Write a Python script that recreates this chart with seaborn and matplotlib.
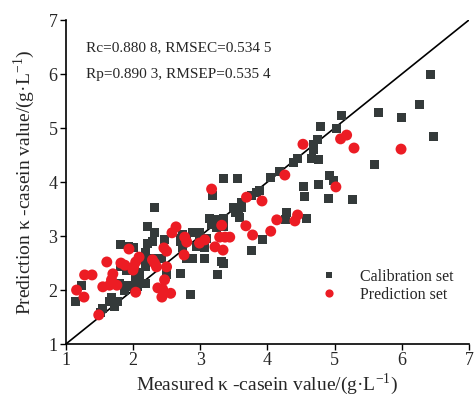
import numpy as np
import pandas as pd
import matplotlib
matplotlib.use("Agg")
import matplotlib.pyplot as plt
import seaborn as sns

# Calibration set (measured, predicted)
cal_x = [6.43, 6.27, 5.66, 5.99, 6.48, 5.60, 5.11, 4.79, 5.03, 4.75, 4.69, 4.68, 4.66, 4.76, 4.45, 4.39,
         4.93, 4.99, 4.76, 4.54, 4.56, 4.91, 5.27, 4.59, 4.29, 4.27,
         4.18, 4.04, 3.56, 3.34, 3.19,
         3.84, 3.77, 3.89, 3.62, 3.49, 3.57, 3.59, 3.62, 3.53,
         3.93, 3.77,
         3.34, 3.25, 3.14, 3.17, 3.25, 3.34, 3.22,
         2.99, 2.89, 2.80, 2.70, 3.10, 2.99, 2.95, 3.07, 2.70, 2.74,
         2.89, 2.80, 3.07, 3.31, 3.34, 3.26, 2.70, 2.86,
         2.32, 2.21, 2.32, 2.22, 2.29, 2.47, 2.74,
         2.18, 2.29, 2.43, 2.15, 2.50, 2.10,
         1.82, 1.94, 2.01,
         2.18, 2.10, 2.04, 1.82, 1.91,
         1.80, 1.24, 1.15, 1.91, 1.88, 1.97, 2.06, 2.18,
         1.68, 1.65, 1.77, 1.73, 1.54, 1.51]
cal_y = [6.00, 5.43, 5.28, 5.20, 4.85, 4.33, 5.24, 5.02, 5.00, 4.78, 4.70, 4.61, 4.44, 4.41, 4.43, 4.37,
         4.13, 4.02, 3.96, 3.91, 3.74, 3.70, 3.67, 3.33, 3.43, 3.31,
         4.19, 4.09, 4.07, 4.06, 3.76,
         3.80, 3.76, 3.85, 3.63, 3.52, 3.44, 3.35, 3.52, 3.44,
         2.94, 2.74,
         3.33, 3.28, 3.33, 3.22, 3.15, 3.17, 3.30,
         3.07, 3.06, 2.98, 2.96, 2.96, 2.89, 2.80, 2.78, 2.89, 2.78,
         2.59, 2.59, 2.59, 2.52, 2.50, 2.28, 2.31, 1.91,
         3.52, 3.17, 3.07, 2.87, 2.89, 2.93, 3.02,
         2.70, 2.59, 2.59, 2.56, 2.28, 2.19,
         2.85, 2.80, 2.78,
         2.43, 2.33, 2.24, 2.43, 2.37,
         2.13, 2.09, 1.78, 2.09, 2.00, 2.06, 2.06, 2.13,
         1.87, 1.78, 1.78, 1.69, 1.65, 1.59]

# Prediction set (measured, predicted)
pred_x = [5.99, 5.18, 5.09, 5.29, 4.53, 5.02, 4.45, 4.41, 4.26,
          3.17, 3.69, 3.92, 4.14, 4.05, 3.68, 3.78,
          3.32, 3.29, 3.37, 3.44, 3.22, 3.34,
          2.64, 2.58, 2.77, 2.80, 2.99, 3.07, 2.76,
          2.46, 2.50, 2.29, 2.32, 2.35, 2.50, 2.47, 2.37, 2.44, 2.56, 2.43,
          1.94, 2.09, 2.04, 2.01, 2.00, 1.61, 1.82, 1.88, 1.28, 1.39, 1.70, 1.68, 1.65, 1.76, 1.55,
          1.16, 1.27, 2.04, 1.49]
pred_y = [4.61, 4.87, 4.80, 4.63, 4.70, 3.91, 3.39, 3.28, 4.13,
          3.87, 3.72, 3.65, 3.30, 3.09, 3.19, 3.02,
          3.20, 2.98, 2.98, 2.98, 2.80, 2.74,
          3.17, 3.06, 2.98, 2.89, 2.87, 2.93, 2.65,
          2.78, 2.72, 2.56, 2.50, 2.43, 2.43, 2.19, 2.04, 2.02, 1.94, 1.87,
          2.76, 2.61, 2.52, 2.43, 2.37, 2.52, 2.50, 2.46, 2.28, 2.28, 2.30, 2.19, 2.09, 2.09, 2.06,
          2.00, 1.87, 1.96, 1.54]

ticks = [1, 2, 3, 4, 5, 6, 7]
stats_text = ["Rc=0.880 8, RMSEC=0.534 5", "Rp=0.890 3, RMSEP=0.535 4"]
set_names = ["Calibration set", "Prediction set"]

df = pd.DataFrame({
    "measured": cal_x + pred_x,
    "predicted": cal_y + pred_y,
    "set": [set_names[0]] * len(cal_x) + [set_names[1]] * len(pred_x),
})

sns.set_style("ticks")
plt.rcParams["font.family"] = ["Liberation Serif", "DejaVu Serif"]
plt.rcParams["mathtext.fontset"] = "custom"
plt.rcParams["mathtext.rm"] = "Liberation Serif"
plt.rcParams["xtick.direction"] = "out"
plt.rcParams["ytick.direction"] = "out"

fig = plt.figure(figsize=(4.77, 4.01), dpi=100)
ax = fig.add_axes([0.138, 0.142, 0.845, 0.808])

sns.scatterplot(data=df, x="measured", y="predicted", hue="set", style="set", size="set",
                palette={set_names[0]: "#343a3a", set_names[1]: "#ec1c24"},
                markers={set_names[0]: "s", set_names[1]: "o"},
                sizes={set_names[0]: 42, set_names[1]: 62},
                linewidth=0, ax=ax, legend=True, zorder=3)
ax.plot([1, 7], [1, 7], color="black", lw=1.2, zorder=2)

ax.set_xlim(1, 7)
ax.set_ylim(1, 7)
ax.set_xticks(ticks)
ax.set_yticks(ticks)
ax.tick_params(labelsize=13, length=4, width=1, color="black", pad=2)
for s in ["top", "right"]:
    ax.spines[s].set_visible(False)
for s in ["left", "bottom"]:
    ax.spines[s].set_linewidth(1.2)
    ax.spines[s].set_color("black")

ax.set_xlabel("Measured κ -casein value/(g·L$^{-1}$)", fontsize=14, labelpad=1)
ax.set_ylabel("Prediction κ -casein value/(g·L$^{-1}$)", fontsize=14, labelpad=8)

ax.text(1.3, 6.48, stats_text[0], fontsize=11, va="center", ha="left")
ax.text(1.3, 6.0, stats_text[1], fontsize=11, va="center", ha="left")

leg = ax.legend(loc="lower right", bbox_to_anchor=(0.977, 0.108), frameon=False,
                fontsize=11.5, handletextpad=0.9, borderaxespad=0, labelspacing=0.1,
                markerscale=0.75)

fig.savefig("out.png", dpi=100, facecolor="white")
